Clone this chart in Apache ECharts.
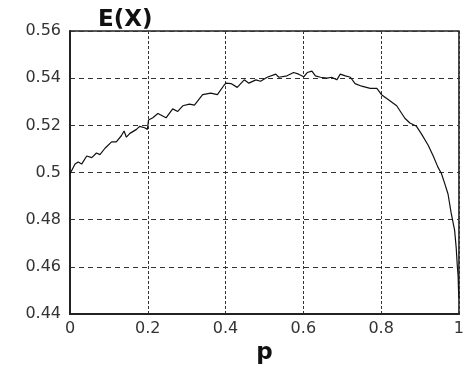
<!DOCTYPE html>
<html>
<head>
<meta charset="utf-8">
<script src="https://cdn.jsdelivr.net/npm/echarts@6/dist/echarts.min.js"></script>
<style>html,body{margin:0;padding:0;background:#fff}#c{width:467px;height:370px}</style>
</head>
<body>
<div id="c"></div>
<script>
// p values (x) and E(X) values (y)
var pValues = [0.000,0.013,0.021,0.030,0.043,0.056,0.068,0.077,0.090,0.107,0.119,0.132,0.139,0.145,0.154,0.171,0.179,0.192,0.199,0.202,0.213,0.226,0.247,0.264,0.277,0.290,0.307,0.320,0.341,0.362,0.379,0.396,0.401,0.414,0.430,0.448,0.460,0.478,0.490,0.507,0.529,0.537,0.558,0.575,0.588,0.601,0.610,0.622,0.631,0.644,0.661,0.673,0.686,0.695,0.708,0.721,0.733,0.750,0.772,0.789,0.801,0.818,0.840,0.861,0.874,0.891,0.904,0.921,0.934,0.946,0.955,0.963,0.972,0.980,0.989,0.993,0.996,0.998,0.999,1.000];
var eValues = [0.4995,0.5036,0.5045,0.5036,0.5070,0.5063,0.5083,0.5076,0.5103,0.5130,0.5130,0.5156,0.5176,0.5150,0.5166,0.5183,0.5196,0.5190,0.5183,0.5223,0.5232,0.5250,0.5232,0.5270,0.5259,0.5283,0.5290,0.5286,0.5330,0.5337,0.5330,0.5370,0.5379,0.5377,0.5361,0.5393,0.5379,0.5393,0.5387,0.5404,0.5417,0.5404,0.5410,0.5424,0.5417,0.5406,0.5424,0.5430,0.5410,0.5404,0.5400,0.5404,0.5393,0.5417,0.5410,0.5404,0.5377,0.5366,0.5357,0.5357,0.5330,0.5310,0.5283,0.5230,0.5210,0.5196,0.5163,0.5116,0.5070,0.5023,0.4996,0.4956,0.4909,0.4829,0.4755,0.4682,0.4602,0.4560,0.4500,0.4468];
var xTicks = ['0','0.2','0.4','0.6','0.8','1'];
var yTicks = ['0.44','0.46','0.48','0.5','0.52','0.54','0.56'];
var titleText = 'E(X)';
var xName = 'p';

var data = pValues.map(function(p,i){return [p,eValues[i]];});
var chart = echarts.init(document.getElementById('c'), null, {renderer:'canvas'});
var labelFont = {color:'#333', fontFamily:'DejaVu Sans', fontSize:16};
chart.setOption({
  animation:false,
  backgroundColor:'#fff',
  title:{text:titleText, left:98, top:9, padding:0,
    textStyle:{fontFamily:'DejaVu Sans', fontSize:23, fontWeight:'bold', color:'#111'}},
  grid:{left:70, right:6, top:31, bottom:40, show:true, borderColor:'#222', borderWidth:1.5},
  xAxis:{type:'value', min:0, max:1, interval:0.2,
    name:xName, nameLocation:'middle', nameGap:6,
    nameTextStyle:{fontFamily:'DejaVu Sans', fontSize:23, fontWeight:'bold', color:'#111'},
    axisLine:{show:true, onZero:false, lineStyle:{color:'#222', width:2}},
    axisTick:{show:false},
    axisLabel:Object.assign({margin:7, formatter:function(v){return xTicks[Math.round(v/0.2)];}}, labelFont),
    splitLine:{show:true, lineStyle:{color:'#333', width:1, type:[3,2]}}},
  yAxis:{type:'value', min:0.44, max:0.56, interval:0.02,
    axisLine:{show:true, onZero:false, lineStyle:{color:'#222', width:2}},
    axisTick:{show:false},
    axisLabel:Object.assign({margin:9, formatter:function(v){return yTicks[Math.round((v-0.44)/0.02)];}}, labelFont),
    splitLine:{show:true, lineStyle:{color:'#333', width:1, type:[5,4]}}},
  series:[{type:'line', data:data, showSymbol:false, symbol:'none',
    lineStyle:{color:'#111', width:1.2}}]
});
</script>
</body>
</html>
